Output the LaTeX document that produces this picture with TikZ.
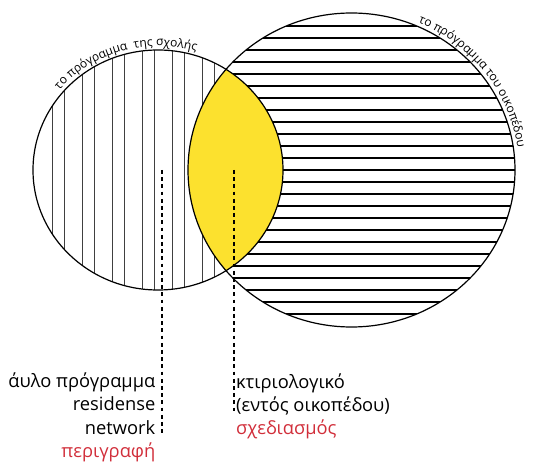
\documentclass[tikz,border=0pt]{standalone}
\usepackage{fontspec}
\setmainfont{Open Sans}
\setsansfont{Open Sans}
\usetikzlibrary{decorations.text,positioning}
\definecolor{lensyellow}{HTML}{FCE12E}
\definecolor{notered}{HTML}{D12E3A}

\begin{document}
\begin{tikzpicture}[
    x=1pt, y=1pt,
    ring/.style={draw, line width=1.2pt},
    vhatch/.style={line width=0.7pt, black!75},
    hhatch/.style={line width=1.5pt},
    leader/.style={line width=1.7pt, dash pattern=on 3.8pt off 3.4pt},
    label/.style={font=\fontsize{18.3}{22}\selectfont, inner sep=0pt},
    redlabel/.style={label, text=notered},
    arclabel/.style={decorate, decoration={text along path, text align=center,
        text={|\fontsize{12}{14}\selectfont|#1}}},
]
\useasboundingbox (0,0) rectangle (533,466);

% Circles
\coordinate (school) at (158,296);
\coordinate (plot) at (351.5,296);

% Hatching
\begin{scope}
  \clip (school) ellipse [x radius=125, y radius=120];
  \foreach \x in {52.5,82.5,...,232.5} {
    \draw[vhatch] (\x,170) -- (\x,420);
    \draw[vhatch] ({\x+12},170) -- ({\x+12},420);
  }
\end{scope}
\begin{scope}
  \clip (plot) ellipse [x radius=163.5, y radius=157];
  \foreach \y in {152,164,...,440}
    \draw[hhatch] (180,\y) -- (520,\y);
\end{scope}

% Lens
\begin{scope}
  \clip (school) ellipse [x radius=125, y radius=120];
  \fill[lensyellow] (plot) ellipse [x radius=163.5, y radius=157];
\end{scope}
\draw[ring] (school) ellipse [x radius=125, y radius=120];
\draw[ring] (plot) ellipse [x radius=163.5, y radius=157];

% Arc labels
\path[arclabel={το πρόγραμμα {\ }της σχολής}]
  ([shift={(school)}]155:129 and 124) arc [start angle=155, end angle=58, x radius=129, y radius=124];
\path[arclabel={το πρόγραμμα του οικοπέδου}]
  ([shift={(plot)}]80:167.5 and 161) arc [start angle=80, end angle=-6, x radius=167.5, y radius=161];

% Leaders
\coordinate (schooltop) at (162.3,296);
\coordinate (schoolend) at (162.3,31);
\coordinate (plottop) at (234,296);
\coordinate (plotend) at (234,53);
\draw[leader] (schooltop) -- (schoolend);
\draw[leader] (plottop) -- (plotend);

% Labels
\node[label, anchor=base east] (intangible) at (155.5,78.3) {άυλο πρόγραμμα};
\node[label, anchor=base east] (residense) at (155.5,55) {residense};
\node[label, anchor=base east] (network) at (155.5,31.7) {network};
\node[redlabel, anchor=base east] (description) at (155.5,8.4) {περιγραφή};
\node[label, anchor=base west] (building) at (236,77.5) {κτιριολογικό};
\node[label, anchor=base west] (withinplot) at (236,54.5) {(εντός οικοπέδου)};
\node[redlabel, anchor=base west] (design) at (236,31.5) {σχεδιασμός};
\end{tikzpicture}
\end{document}
